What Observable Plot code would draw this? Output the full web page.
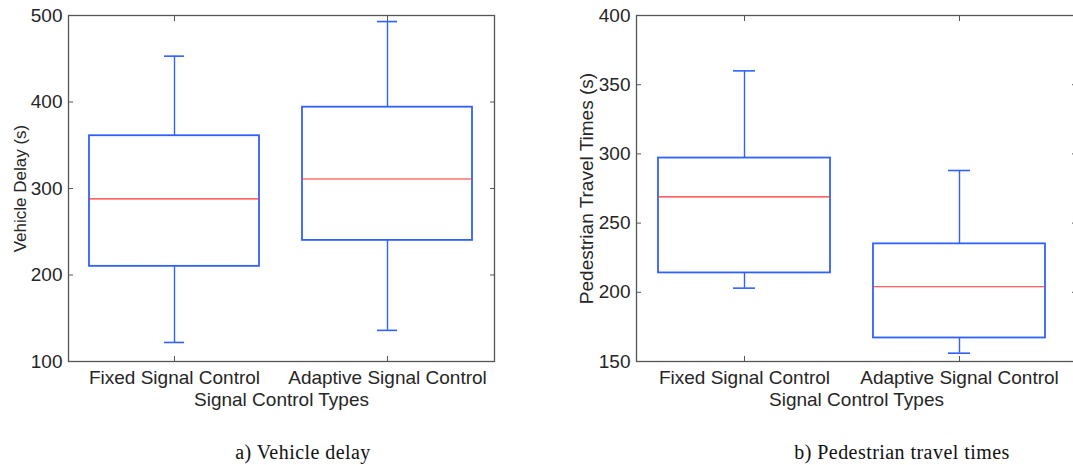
<!DOCTYPE html>
<html><head><meta charset="utf-8">
<script src="https://cdn.jsdelivr.net/npm/d3@7"></script>
<script src="https://cdn.jsdelivr.net/npm/@observablehq/plot@0.6"></script>
<style>
html,body{margin:0;padding:0;background:#fff;}
#wrap{position:relative;width:1073px;height:465px;overflow:hidden;background:#fff;}
.panel{position:absolute;top:0;height:410px;overflow:hidden;}
.panel svg{max-width:none !important;}
.cap{position:absolute;font-family:"Liberation Serif","Times New Roman",serif;font-size:20px;letter-spacing:0.45px;color:#111;white-space:nowrap;transform:translateX(-50%);line-height:1;}
</style></head><body>
<div id="wrap">
  <div id="pa" class="panel" style="left:0;width:537px"></div>
  <div id="pb" class="panel" style="left:540px;width:533px"></div>
  <div class="cap" style="left:303px;top:442px">a) Vehicle delay</div>
  <div class="cap" style="left:902px;top:442px">b) Pedestrian travel times</div>
</div>
<script>
const categories = ["Fixed Signal Control", "Adaptive Signal Control"];

// a) Vehicle delay (s)
const delayMin = [122, 136];
const delayQ1 = [210, 240];
const delayMedian = [288, 311];
const delayQ3 = [361, 394];
const delayMax = [453, 493];
const delayTicks = [100, 200, 300, 400, 500];

// b) Pedestrian travel times (s)
const pedMin = [203, 156];
const pedQ1 = [214, 167];
const pedMedian = [269, 204];
const pedQ3 = [297, 235];
const pedMax = [360, 288];
const pedTicks = [150, 200, 250, 300, 350, 400];

const FONT = '"Liberation Sans", Arial, Helvetica, sans-serif';
const TEXT = "#262626";
const AXIS = "#555";
const BLUE = "#3060ff";
const RED = "#ff3030";

function boxPanel(o) {
  const rows = categories.map((c, i) => ({cat: c, min: o.min[i], q1: o.q1[i], med: o.med[i], q3: o.q3[i], max: o.max[i]}));
  return Plot.plot({
    width: o.width, height: 410,
    marginLeft: o.ml, marginRight: o.mr, marginTop: 15, marginBottom: 49,
    style: {fontFamily: FONT, fontSize: "18px", color: TEXT, background: "white", overflow: "visible", maxWidth: "none"},
    x: {type: "band", domain: categories, paddingInner: 0.2, paddingOuter: o.po, align: o.align, label: null},
    y: {domain: [o.ticks[0], o.ticks[o.ticks.length - 1]], label: null, labelArrow: false},
    marks: [
      Plot.barY(rows, {x: "cat", y1: "q1", y2: "q3", fill: "none", stroke: BLUE, strokeWidth: 1.8}),
      Plot.ruleX(rows, {x: "cat", y1: "q3", y2: "max", stroke: BLUE, strokeWidth: 1.4}),
      Plot.ruleX(rows, {x: "cat", y1: "min", y2: "q1", stroke: BLUE, strokeWidth: 1.4}),
      Plot.tickY(rows, {x: "cat", y: "max", stroke: BLUE, strokeWidth: 1.6, insetLeft: 75, insetRight: 75}),
      Plot.tickY(rows, {x: "cat", y: "min", stroke: BLUE, strokeWidth: 1.6, insetLeft: 75, insetRight: 75}),
      Plot.tickY(rows, {x: "cat", y: "med", stroke: RED, strokeWidth: 1.2}),
      Plot.frame({stroke: AXIS, strokeWidth: 1.3}),
      Plot.axisX({anchor: "bottom", tickSize: 0, tickPadding: 9, fontSize: 19, fill: TEXT,
        label: "Signal Control Types", labelAnchor: "center", labelOffset: 44, labelArrow: false}),
      Plot.axisX({anchor: "bottom", tickSize: -5, text: null, label: null, stroke: AXIS}),
      Plot.axisX({anchor: "top", tickSize: -5, text: null, label: null, stroke: AXIS}),
      Plot.axisY({anchor: "left", ticks: o.ticks, tickSize: 0, tickPadding: 6, fontSize: 19, fill: TEXT, label: null}),
      Plot.axisY({anchor: "left", ticks: [], tickSize: 0, fontSize: o.labelSize, fill: TEXT,
        label: o.yLabel, labelAnchor: "center", labelOffset: o.labelOffset, labelArrow: false}),
      Plot.axisY({anchor: "left", ticks: o.ticks, tickSize: -5, text: null, label: null, stroke: AXIS}),
      Plot.axisY({anchor: "right", ticks: o.ticks, tickSize: -5, text: null, label: null, stroke: AXIS})
    ]
  });
}

document.getElementById("pa").append(boxPanel({
  width: 537, ml: 68, mr: 43, po: 0.1, align: 0.5,
  min: delayMin, q1: delayQ1, med: delayMedian, q3: delayQ3, max: delayMax,
  ticks: delayTicks, yLabel: "Vehicle Delay (s)", labelSize: 17, labelOffset: 55
}));
document.getElementById("pb").append(boxPanel({
  width: 540, ml: 96, mr: 4, po: 0.1204, align: 0.424,
  min: pedMin, q1: pedQ1, med: pedMedian, q3: pedQ3, max: pedMax,
  ticks: pedTicks, yLabel: "Pedestrian Travel Times (s)", labelSize: 19, labelOffset: 57
}));
</script>
</body></html>
